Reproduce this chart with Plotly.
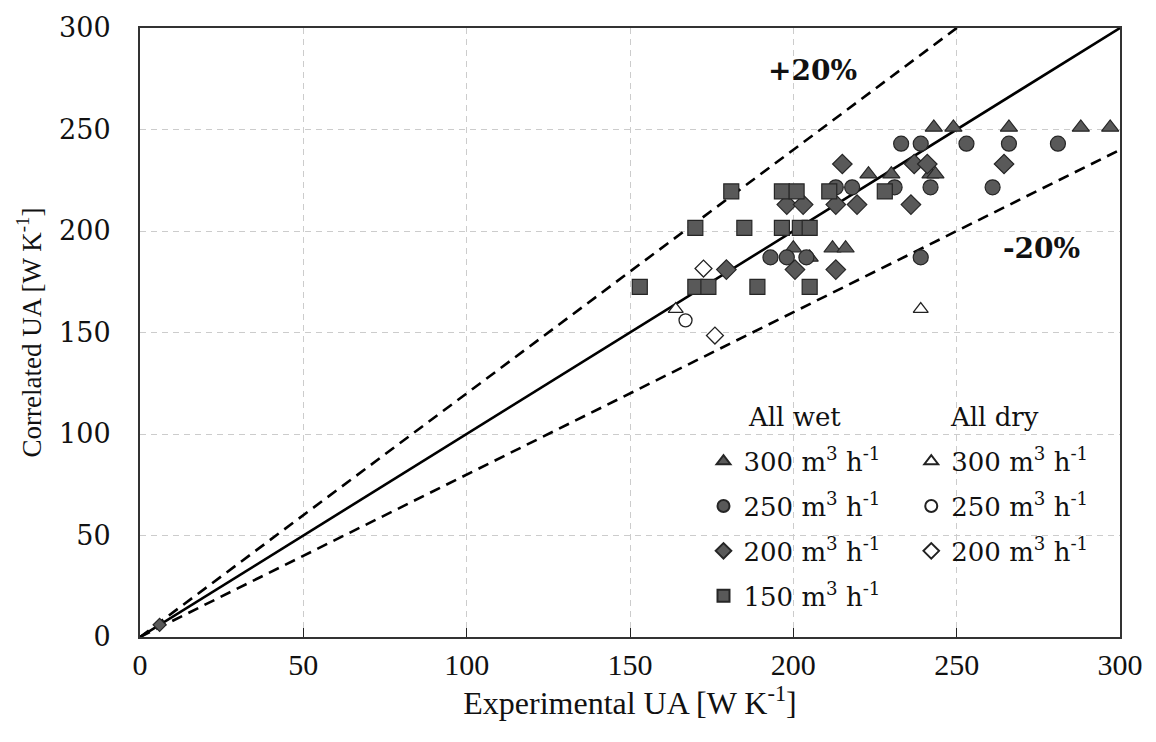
import plotly.graph_objects as go

# ---- data ----
wet300_x = [243, 249, 266, 288, 297, 223, 230, 242, 243.5, 200, 212, 216, 205]
wet300_y = [251, 251, 251, 251, 251, 228, 228, 228, 228, 191.5, 191.5, 191.5, 187]

wet250_x = [233, 239, 253, 266, 281, 213, 218, 231, 242, 261, 193, 198, 204, 239]
wet250_y = [243, 243, 243, 243, 243, 221.5, 221.5, 221.5, 221.5, 221.5, 187, 187, 187, 187]

wet200_x = [215, 237, 241, 264.5, 198, 203, 213, 219.5, 236, 179.5, 200.5, 213, 6]
wet200_y = [233, 233, 233, 233, 213, 213, 213, 213, 213, 181, 181, 181, 6]

wet150_x = [181, 196.5, 201, 211, 228, 170, 185, 196.5, 202, 205, 153, 170, 174, 189, 205]
wet150_y = [219.5, 219.5, 219.5, 219.5, 219.5, 201.5, 201.5, 201.5, 201.5, 201.5,
            172.5, 172.5, 172.5, 172.5, 172.5]

dry300_x = [164, 239]
dry300_y = [161.5, 161.5]
dry250_x = [167]
dry250_y = [156]
dry200_x = [172.5, 176]
dry200_y = [181.5, 148.5]

ref_x = [0, 300]
ref_factors = [1.0, 1.2, 0.8]
ref_dash = ["solid", "dash", "dash"]

band_labels = ["+20%", "-20%"]
band_label_x = [206, 276]
band_label_y = [279, 191.5]

group_titles = ["All wet", "All dry"]

unit = " m<sup>3</sup> h<sup>-1</sup>"

DARK = "#595959"
EDGE = "#262626"
SERIF = "DejaVu Serif"

fig = go.Figure()

for f, d in zip(ref_factors, ref_dash):
    fig.add_trace(go.Scatter(
        x=ref_x, y=[f * v for v in ref_x], mode="lines",
        line=dict(color="black", width=2.6, dash="solid" if d == "solid" else "11px,7px"),
        showlegend=False, hoverinfo="skip"))

wet = [
    ("300", wet300_x, wet300_y, "triangle-up", 15),
    ("250", wet250_x, wet250_y, "circle", 15),
    ("200", wet200_x, wet200_y, "diamond", 15),
    ("150", wet150_x, wet150_y, "square", 15),
]
for name, xs, ys, sym, sz in wet:
    sizes = [sz if x > 50 else 10 for x in xs]
    fig.add_trace(go.Scatter(
        x=xs, y=ys, mode="markers", name=name + unit,
        legend="legend", legendgroup="w" + name,
        marker=dict(symbol=sym, size=sizes, color=DARK, opacity=1,
                    line=dict(color=EDGE, width=1.2)),
        cliponaxis=False))

dry = [
    ("300", dry300_x, dry300_y, "triangle-up", 13),
    ("250", dry250_x, dry250_y, "circle", 13),
    ("200", dry200_x, dry200_y, "diamond", 13),
]
for name, xs, ys, sym, sz in dry:
    fig.add_trace(go.Scatter(
        x=xs, y=ys, mode="markers", name=name + unit,
        legend="legend2", legendgroup="d" + name,
        marker=dict(symbol=sym, size=sz, color="white", opacity=1,
                    line=dict(color="#222222", width=1.3)),
        cliponaxis=False))

for t, x, y in zip(band_labels, band_label_x, band_label_y):
    fig.add_annotation(x=x, y=y, text="<b>" + t + "</b>", showarrow=False,
                       font=dict(family=SERIF, size=28, color="#111111"))

for t, px in zip(group_titles, [0.668, 0.872]):
    fig.add_annotation(x=px, y=0.362, xref="paper", yref="paper", text=t,
                       showarrow=False, xanchor="center", yanchor="middle",
                       font=dict(family=SERIF, size=26, color="#111111"))

grid = dict(showgrid=True, gridcolor="#cccccc", gridwidth=1.3, griddash="6px,5px")

legend_common = dict(
    bgcolor="rgba(0,0,0,0)", borderwidth=0, itemsizing="constant",
    tracegroupgap=8, traceorder="grouped",
    font=dict(family=SERIF, size=26, color="#111111"),
    xanchor="left", yanchor="top", itemclick=False)

fig.update_layout(
    width=1156, height=742,
    margin=dict(l=140, r=36, t=21, b=105),
    plot_bgcolor="white", paper_bgcolor="white",
    xaxis=dict(range=[0, 300], dtick=50, ticks="inside", ticklen=9, tickcolor="#222222",
               tickwidth=1.2, showline=True, linecolor="#333333", linewidth=2, mirror=True,
               tickfont=dict(family="Liberation Serif", size=30, color="#111111"),
               title=dict(text="Experimental UA [W K<sup>-1</sup>]", standoff=12,
                          font=dict(family="Liberation Serif", size=32, color="#111111")),
               zeroline=False, **grid),
    yaxis=dict(range=[0, 300], dtick=50, ticks="", showline=True, linecolor="#333333",
               linewidth=2, mirror=True, ticklabelstandoff=22,
               tickfont=dict(family=SERIF, size=27, color="#111111"),
               title=dict(text="Correlated UA [W K<sup>-1</sup>]", standoff=10,
                          font=dict(family="Liberation Serif", size=27, color="#111111")),
               zeroline=False, **grid),
    legend=dict(x=0.575, y=0.327, **legend_common),
    legend2=dict(x=0.787, y=0.327, **legend_common),
)

fig.write_html("out.html")
